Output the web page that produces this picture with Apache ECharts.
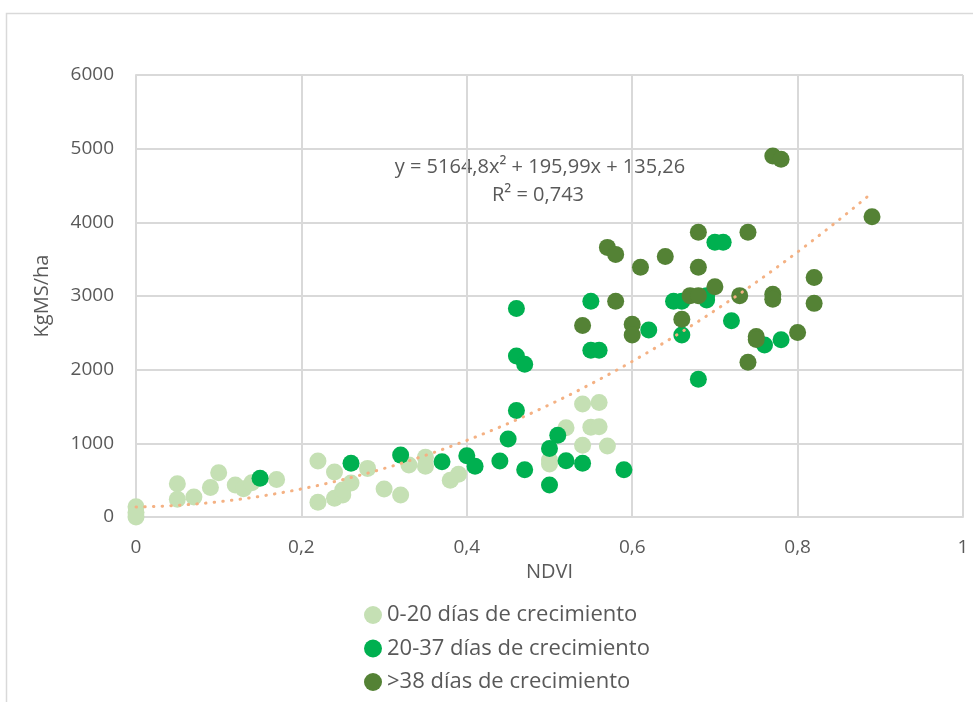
<!DOCTYPE html>
<html>
<head>
<meta charset="utf-8">
<title>NDVI vs KgMS/ha</title>
<script src="https://cdn.jsdelivr.net/npm/echarts@6/dist/echarts.min.js"></script>
<style>
  html, body { margin: 0; padding: 0; background: #ffffff; }
  #chart { width: 973px; height: 702px; }
</style>
</head>
<body>
<div id="chart"></div>
<script>
// Series names
const seriesNames = ['0-20 días de crecimiento', '20-37 días de crecimiento', '>38 días de crecimiento'];

// [NDVI, KgMS/ha] pairs per growth period
const dias0a20 = [
  [0, 140], [0, 60], [0, 0], [0.05, 450], [0.05, 240], [0.07, 270], [0.09, 400],
  [0.10, 600], [0.12, 435], [0.13, 385], [0.14, 465], [0.17, 510], [0.22, 760],
  [0.22, 200], [0.24, 610], [0.24, 255], [0.25, 300], [0.25, 365], [0.26, 460],
  [0.28, 660], [0.30, 380], [0.32, 300], [0.33, 705], [0.35, 810], [0.35, 690],
  [0.38, 500], [0.39, 580], [0.50, 775], [0.50, 720], [0.52, 1210], [0.54, 1535],
  [0.56, 1555], [0.55, 1220], [0.56, 1225], [0.54, 975], [0.57, 965]
];

const dias20a37 = [
  [0.15, 525], [0.26, 730], [0.32, 840], [0.37, 750], [0.40, 830], [0.41, 690],
  [0.44, 760], [0.45, 1060], [0.46, 2830], [0.46, 2185], [0.47, 2075], [0.46, 1445],
  [0.47, 640], [0.50, 930], [0.50, 435], [0.51, 1110], [0.52, 765], [0.54, 730],
  [0.59, 640], [0.55, 2930], [0.55, 2265], [0.56, 2265], [0.62, 2540], [0.65, 2930],
  [0.66, 2930], [0.69, 2945], [0.69, 3005], [0.66, 2470], [0.68, 1870], [0.70, 3730],
  [0.71, 3730], [0.72, 2665], [0.76, 2335], [0.78, 2405]
];

const dias38mas = [
  [0.54, 2600], [0.57, 3660], [0.58, 3565], [0.58, 2930], [0.60, 2615], [0.60, 2470],
  [0.61, 3390], [0.64, 3535], [0.66, 2685], [0.67, 3005], [0.68, 3005], [0.68, 3865],
  [0.68, 3390], [0.70, 3125], [0.73, 3005], [0.74, 3865], [0.74, 2100], [0.75, 2450],
  [0.75, 2410], [0.77, 4900], [0.78, 4855], [0.77, 3025], [0.77, 2955], [0.80, 2505],
  [0.82, 3250], [0.82, 2900], [0.89, 4075]
];

// Polynomial trend line: y = a*x^2 + b*x + c, drawn over the NDVI range of the data
const trendCoef = [5164.8, 195.99, 135.26];
const trendRange = [0, 0.89];
const equationText = 'y = 5164,8x² + 195,99x + 135,26';
const r2Text = 'R² = 0,743';

const colors = ['#c5e0b4', '#00b050', '#548235'];
const textColor = '#595959';
const gridColor = '#d9d9d9';
const fontFamily = '"Open Sans", "Liberation Sans", sans-serif';

function trendPoints() {
  const pts = [];
  const steps = 89;
  for (let i = 0; i <= steps; i++) {
    const x = trendRange[0] + (trendRange[1] - trendRange[0]) * i / steps;
    pts.push([x, trendCoef[0] * x * x + trendCoef[1] * x + trendCoef[2]]);
  }
  return pts;
}

const chart = echarts.init(document.getElementById('chart'), null, { renderer: 'canvas' });

const scatter = (name, data, color, z) => ({
  name: name,
  type: 'scatter',
  data: data,
  symbol: 'circle',
  symbolSize: 17,
  itemStyle: { color: color, opacity: 1 },
  z: z,
  clip: false
});

chart.setOption({
  backgroundColor: '#ffffff',
  animation: false,
  textStyle: { fontFamily: fontFamily },
  grid: { left: 136, right: 10, top: 75, bottom: 185 },
  xAxis: {
    type: 'value', min: 0, max: 1, interval: 0.2,
    name: 'NDVI', nameLocation: 'middle', nameGap: 45,
    nameTextStyle: { color: textColor, fontSize: 20, fontFamily: fontFamily },
    axisLine: { show: true, lineStyle: { color: gridColor, width: 2 } },
    axisTick: { show: false },
    axisLabel: {
      color: textColor, fontSize: 19, margin: 21, fontFamily: fontFamily,
      formatter: v => String(+v.toFixed(1)).replace('.', ',')
    },
    splitLine: { show: true, lineStyle: { color: gridColor, width: 2 } }
  },
  yAxis: {
    type: 'value', min: 0, max: 6000, interval: 1000,
    name: 'KgMS/ha', nameLocation: 'middle', nameGap: 84, nameRotate: 90,
    nameTextStyle: { color: textColor, fontSize: 20, fontFamily: fontFamily },
    axisLine: { show: true, lineStyle: { color: gridColor, width: 2 } },
    axisTick: { show: false },
    axisLabel: {
      color: textColor, fontSize: 19, margin: 22, fontFamily: fontFamily,
      formatter: v => String(v)
    },
    splitLine: { show: true, lineStyle: { color: gridColor, width: 2 } }
  },
  legend: {
    data: seriesNames,
    orient: 'vertical',
    left: 364, top: 604,
    padding: 0,
    itemWidth: 18, itemHeight: 18, itemGap: 11.5,
    icon: 'circle',
    textStyle: { color: textColor, fontSize: 22, lineHeight: 22, fontFamily: fontFamily }
  },
  graphic: [
    {
      type: 'rect', silent: true, z: -10,
      shape: { x: 6.5, y: 13.5, width: 1000, height: 1000 },
      style: { fill: 'none', stroke: gridColor, lineWidth: 1.5 }
    },
    {
      type: 'text', silent: true,
      style: { text: equationText, x: 540, y: 167, fill: textColor, font: '20px ' + fontFamily, textAlign: 'center', textVerticalAlign: 'middle' }
    },
    {
      type: 'text', silent: true,
      style: { text: r2Text, x: 538, y: 195, fill: textColor, font: '20px ' + fontFamily, textAlign: 'center', textVerticalAlign: 'middle' }
    }
  ],
  series: [
    scatter(seriesNames[0], dias0a20, colors[0], 2),
    scatter(seriesNames[1], dias20a37, colors[1], 3),
    scatter(seriesNames[2], dias38mas, colors[2], 4),
    {
      name: 'Polinómica',
      type: 'line',
      data: trendPoints(),
      showSymbol: false,
      symbol: 'none',
      smooth: false,
      lineStyle: { color: '#f4b183', width: 3, type: [0.5, 8.2], cap: 'round' },
      z: 5,
      silent: true
    }
  ]
});
</script>
</body>
</html>
